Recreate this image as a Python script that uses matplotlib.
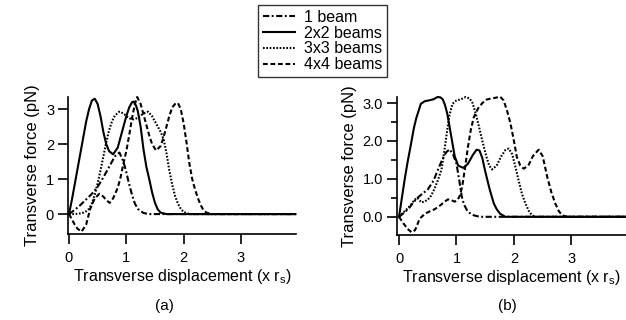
import matplotlib
matplotlib.use("Agg")
import matplotlib.pyplot as plt
from matplotlib.ticker import MultipleLocator, FormatStrFormatter

plt.rcParams['font.family'] = ['Liberation Sans', 'DejaVu Sans']

# ---- panel (a) ----
a1_x = [0, 0.1, 0.2, 0.3, 0.4, 0.5, 0.6, 0.7, 0.8, 0.88, 0.95, 1.0, 1.05, 1.1, 1.15, 1.2, 1.3, 1.4, 3.95]
a1_y = [0, 0.12, 0.26, 0.42, 0.58, 0.78, 1.05, 1.35, 1.65, 1.76, 1.5, 1.2, 0.85, 0.55, 0.3, 0.15, 0.03, 0, 0]

a2_x = [0, 0.05, 0.1, 0.15, 0.2, 0.25, 0.3, 0.35, 0.4, 0.45, 0.5, 0.55, 0.6, 0.65, 0.7, 0.77, 0.85, 0.9,
        0.95, 1.0, 1.05, 1.1, 1.13, 1.17, 1.2, 1.25, 1.3, 1.35, 1.4, 1.45, 1.5, 1.55, 1.6, 1.7, 3.95]
a2_y = [0, 0.4, 0.85, 1.3, 1.75, 2.2, 2.65, 3.0, 3.25, 3.3, 3.15, 2.8, 2.35, 2.0, 1.8, 1.71, 1.9, 2.2,
        2.5, 2.8, 3.05, 3.2, 3.22, 3.1, 2.95, 2.5, 1.85, 1.35, 1.0, 0.62, 0.32, 0.13, 0.04, 0, 0]

a3_x = [0, 0.1, 0.2, 0.25, 0.3, 0.35, 0.4, 0.45, 0.5, 0.55, 0.6, 0.65, 0.7, 0.75, 0.8, 0.88, 0.95, 1.02,
        1.1, 1.2, 1.3, 1.38, 1.45, 1.5, 1.55, 1.6, 1.65, 1.7, 1.75, 1.8, 1.85, 1.9, 1.95, 2.0, 2.1, 3.95]
a3_y = [0, 0, 0.02, 0.04, 0.08, 0.15, 0.3, 0.55, 0.88, 1.25, 1.65, 2.05, 2.4, 2.65, 2.82, 2.93, 2.88, 2.78,
        2.7, 2.75, 2.88, 2.93, 2.8, 2.65, 2.5, 2.35, 2.15, 1.75, 1.25, 0.85, 0.52, 0.3, 0.15, 0.06, 0, 0]

a4_x = [0, 0.05, 0.1, 0.15, 0.22, 0.3, 0.37, 0.45, 0.53, 0.6, 0.65, 0.71, 0.77, 0.85, 0.9, 0.95, 1.0,
        1.05, 1.1, 1.15, 1.19, 1.25, 1.3, 1.35, 1.4, 1.45, 1.52, 1.6, 1.65, 1.7, 1.75, 1.8, 1.85, 1.9,
        1.95, 2.0, 2.05, 2.1, 2.15, 2.2, 2.25, 2.3, 2.35, 2.4, 2.5, 3.95]
a4_y = [0, -0.15, -0.3, -0.42, -0.5, -0.3, 0.15, 0.45, 0.58, 0.5, 0.4, 0.32, 0.45, 0.75, 1.05, 1.45, 1.8,
        2.25, 2.75, 3.15, 3.35, 3.15, 2.85, 2.55, 2.25, 2.0, 1.82, 1.95, 2.2, 2.5, 2.8, 3.05, 3.15, 3.18,
        3.0, 2.6, 2.05, 1.45, 1.0, 0.7, 0.45, 0.25, 0.1, 0.04, 0, 0]

# ---- panel (b) ----
b1_x = [0, 0.1, 0.18, 0.25, 0.32, 0.4, 0.5, 0.6, 0.68, 0.75, 0.82, 0.88, 0.94, 1.0, 1.05, 1.09, 1.13,
        1.18, 1.23, 1.3, 1.4, 3.95]
b1_y = [0, 0.12, 0.24, 0.38, 0.5, 0.6, 0.72, 0.95, 1.25, 1.5, 1.7, 1.78, 1.65, 1.4, 0.95, 0.55, 0.33,
        0.18, 0.1, 0.04, 0, 0]

b2_x = [0, 0.05, 0.1, 0.15, 0.2, 0.26, 0.3, 0.38, 0.45, 0.52, 0.6, 0.67, 0.72, 0.76, 0.8, 0.84, 0.9,
        0.97, 1.03, 1.12, 1.2, 1.28, 1.35, 1.4, 1.45, 1.5, 1.58, 1.65, 1.7, 1.76, 1.85, 3.95]
b2_y = [0, 0.5, 1.0, 1.45, 1.85, 2.35, 2.6, 2.98, 3.05, 3.07, 3.1, 3.16, 3.15, 3.1, 2.95, 2.72, 2.2,
        1.59, 1.35, 1.29, 1.4, 1.62, 1.77, 1.75, 1.55, 1.2, 0.71, 0.35, 0.2, 0.08, 0, 0]

b3_x = [0, 0.1, 0.2, 0.27, 0.32, 0.39, 0.44, 0.5, 0.56, 0.62, 0.68, 0.74, 0.79, 0.84, 0.88, 0.93, 1.0,
        1.08, 1.16, 1.23, 1.28, 1.33, 1.38, 1.45, 1.52, 1.57, 1.62, 1.7, 1.78, 1.85, 1.91, 1.97, 2.02,
        2.08, 2.14, 2.2, 2.26, 2.31, 2.36, 3.95]
b3_y = [0, 0.15, 0.3, 0.45, 0.5, 0.38, 0.4, 0.45, 0.56, 0.75, 0.98, 1.25, 1.75, 2.3, 2.7, 2.98, 3.07,
        3.1, 3.16, 3.12, 3.0, 2.75, 2.45, 2.0, 1.59, 1.35, 1.25, 1.35, 1.6, 1.76, 1.8, 1.65, 1.35,
        0.97, 0.6, 0.35, 0.15, 0.05, 0, 0]

b4_x = [0, 0.08, 0.15, 0.22, 0.28, 0.36, 0.45, 0.53, 0.62, 0.7, 0.78, 0.85, 0.92, 0.97, 1.02, 1.06,
        1.1, 1.15, 1.2, 1.25, 1.3, 1.38, 1.45, 1.52, 1.6, 1.68, 1.76, 1.82, 1.88, 1.94, 2.0, 2.05, 2.11,
        2.17, 2.25, 2.33, 2.43, 2.5, 2.58, 2.65, 2.72, 2.78, 2.84, 2.92, 3.95]
b4_y = [0, -0.18, -0.32, -0.41, -0.35, -0.05, 0.08, 0.14, 0.2, 0.28, 0.38, 0.46, 0.43, 0.4, 0.45, 0.56,
        0.8, 1.3, 1.85, 2.3, 2.62, 2.87, 3.0, 3.09, 3.12, 3.14, 3.17, 3.07, 2.8, 2.46, 2.0, 1.58, 1.35,
        1.27, 1.35, 1.6, 1.77, 1.6, 1.05, 0.65, 0.35, 0.15, 0.04, 0, 0]

labels = ["1 beam", "2x2 beams", "3x3 beams", "4x4 beams"]
styles = [dict(dashes=(3.0, 1.2, 0.9, 1.2)), dict(), dict(dashes=(0.8, 0.8)), dict(dashes=(2.3, 1.3))]
lw = 1.5

fig = plt.figure(figsize=(6.26, 3.2), dpi=100)
axa = fig.add_axes([68/626, 86/320, 228/626, 137/320])
axb = fig.add_axes([397/626, 85/320, 229/626, 138/320])

panels = [
    (axa, [(a1_x, a1_y), (a2_x, a2_y), (a3_x, a3_y), (a4_x, a4_y)], (-0.017, 3.96), (-0.57, 3.35)),
    (axb, [(b1_x, b1_y), (b2_x, b2_y), (b3_x, b3_y), (b4_x, b4_y)], (-0.035, 3.95), (-0.48, 3.16)),
]
handles = []
for ax, series, xl, yl in panels:
    hs = []
    for (x, y), lab, st in zip(series, labels, styles):
        h, = ax.plot(x, y, color='black', lw=lw, label=lab, clip_on=False, **st)
        hs.append(h)
    handles = hs
    ax.set_xlim(*xl)
    ax.set_ylim(*yl)
    ax.spines['top'].set_visible(False)
    ax.spines['right'].set_visible(False)
    ax.spines['left'].set_linewidth(1.2)
    ax.spines['bottom'].set_linewidth(1.2)
    ax.xaxis.set_major_locator(MultipleLocator(1))
    ax.yaxis.set_major_locator(MultipleLocator(1))
    ax.tick_params(direction='out', length=7, width=1.2, labelsize=10.5, pad=3)
    ax.tick_params(axis='x', pad=5)
    ax.set_xlabel("Transverse displacement (x r$_\\mathregular{s}$)", fontsize=11.5, labelpad=2)
    ax.set_ylabel("Transverse force (pN)", fontsize=12, labelpad=4)

axb.yaxis.set_minor_locator(MultipleLocator(0.5))
axb.yaxis.set_major_formatter(FormatStrFormatter('%.1f'))
axb.tick_params(axis='y', which='minor', direction='out', length=4, width=1.2)

fig.text(164/626, 1 - 306/320, "(a)", ha='center', va='center', fontsize=11)
fig.text(507/626, 1 - 306/320, "(b)", ha='center', va='center', fontsize=11)

leg = fig.legend(handles, labels, loc='upper left', bbox_to_anchor=(258/626, 1 - 5/320),
                 fontsize=11.5, frameon=True, fancybox=False, edgecolor='black',
                 handlelength=2.0, handletextpad=0.6, labelspacing=0.05, borderpad=0.3,
                 borderaxespad=0)
leg.get_frame().set_linewidth(1.0)

fig.savefig("out.png", dpi=100)
